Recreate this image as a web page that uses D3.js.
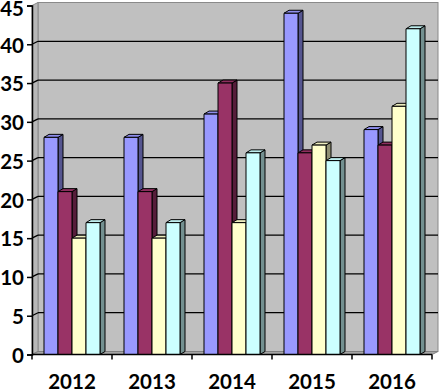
<!DOCTYPE html>
<html>
<head>
<meta charset="utf-8">
<script src="https://cdn.jsdelivr.net/npm/d3@7"></script>
<style>
  html, body { margin: 0; padding: 0; background: #fff; }
  svg { display: block; }
  .lbl { font-family: Lato, "Open Sans", sans-serif; font-weight: 700; font-size: 20.5px; fill: #000; }
</style>
</head>
<body>
<div id="chart"></div>
<script>
// Four series per year, Excel-2003 style 3D clustered columns.
const years = ["2012", "2013", "2014", "2015", "2016"];
const seriesA = [28, 28, 31, 44, 29];
const seriesB = [21, 21, 35, 26, 27];
const seriesC = [15, 15, 17, 27, 32];
const seriesD = [17, 17, 26, 25, 42];
const yTicks = [0, 5, 10, 15, 20, 25, 30, 35, 40, 45];

const series = [seriesA, seriesB, seriesC, seriesD];
const fills = ["#9999ff", "#993366", "#ffffcc", "#ccffff"];

const width = 439, height = 392;
const m = { left: 32, right: 7, top: 5.5, bottom: 37.5 };
const plotR = width - m.right;          // front plane right edge
const zeroY = height - m.bottom;        // front plane baseline
const wallDx = 6, wallDy = 3;           // depth of the walls
const barDx = 5, barDy = 3;             // depth of each column

const x0 = d3.scaleBand(years, [m.left, plotR]).paddingInner(0.3).paddingOuter(0.15);
const x1 = d3.scaleBand(d3.range(series.length), [0, x0.bandwidth()]);
const y = d3.scaleLinear([0, 45], [zeroY, m.top]);

const svg = d3.select("#chart").append("svg")
  .attr("width", width).attr("height", height);

const pts = (a) => a.map((p) => p.join(",")).join(" ");

// back wall, left wall, floor
const wallTop = y(45) - wallDy;
svg.append("rect")
  .attr("x", m.left + wallDx).attr("y", wallTop)
  .attr("width", plotR - m.left).attr("height", zeroY - wallDy - wallTop)
  .attr("fill", "#c0c0c0").attr("stroke", "#8a8a8a").attr("stroke-width", 1);
svg.append("polygon")
  .attr("points", pts([[m.left, zeroY], [m.left + wallDx, zeroY - wallDy], [m.left + wallDx, wallTop], [m.left, y(45)]]))
  .attr("fill", "#b8b8b8").attr("stroke", "#8a8a8a").attr("stroke-width", 1);
svg.append("polygon")
  .attr("points", pts([[m.left, zeroY], [plotR, zeroY], [plotR + wallDx, zeroY - wallDy], [m.left + wallDx, zeroY - wallDy]]))
  .attr("fill", "#a6a6a6").attr("stroke", "#808080").attr("stroke-width", 1);

// gridlines on back and left wall
const grid = svg.append("g").attr("stroke", "#000").attr("stroke-width", 1.3);
yTicks.filter((t) => t > 0 && t < 45).forEach((t) => {
  grid.append("line")
    .attr("x1", m.left + wallDx).attr("x2", plotR + wallDx)
    .attr("y1", y(t) - wallDy).attr("y2", y(t) - wallDy);
  grid.append("line")
    .attr("x1", m.left).attr("x2", m.left + wallDx)
    .attr("y1", y(t)).attr("y2", y(t) - wallDy);
});

// columns, painted left to right so neighbours cover hidden sides
const bars = svg.append("g").attr("stroke", "#000").attr("stroke-width", 1).attr("stroke-linejoin", "round");
years.forEach((yr, i) => {
  series.forEach((s, k) => {
    const xl = x0(yr) + x1(k), xr = xl + x1.bandwidth();
    const yt = y(s[i]);
    const c = d3.color(fills[k]);
    bars.append("polygon")
      .attr("points", pts([[xr, yt], [xr + barDx, yt - barDy], [xr + barDx, zeroY - barDy], [xr, zeroY]]))
      .attr("fill", c.darker(1.6));
    bars.append("polygon")
      .attr("points", pts([[xl, yt], [xr, yt], [xr + barDx, yt - barDy], [xl + barDx, yt - barDy]]))
      .attr("fill", c.darker(0.2));
    bars.append("rect")
      .attr("x", xl).attr("y", yt)
      .attr("width", xr - xl).attr("height", zeroY - yt)
      .attr("fill", c);
  });
});

// y axis
const yAxis = svg.append("g")
  .attr("transform", `translate(${m.left},0)`)
  .call(d3.axisLeft(y).tickValues(yTicks).tickSize(5).tickPadding(3));
yAxis.select(".domain").attr("stroke", "#000").attr("stroke-width", 1.5);
yAxis.selectAll(".tick line").attr("stroke", "#000").attr("stroke-width", 1.5);
yAxis.selectAll(".tick text").attr("class", "lbl").attr("font-size", null).attr("font-family", null)
  .attr("dy", "0.38em")
  // the top label sits against the page edge; keep it inside
  .attr("y", (d) => (d === 45 ? 2 : 0));

// x axis: line, boundary ticks, year labels
const xg = svg.append("g");
xg.append("line")
  .attr("x1", m.left).attr("x2", plotR).attr("y1", zeroY).attr("y2", zeroY)
  .attr("stroke", "#000").attr("stroke-width", 1.5);
const edges = years.map((yr) => x0(yr) - x0.step() * x0.paddingOuter()).concat([plotR]);
xg.selectAll("line.tk").data(edges).join("line").attr("class", "tk")
  .attr("x1", (d) => d).attr("x2", (d) => d).attr("y1", zeroY).attr("y2", zeroY + 5)
  .attr("stroke", "#000").attr("stroke-width", 1.5);
xg.selectAll("text").data(years).join("text").attr("class", "lbl")
  .attr("x", (d) => x0(d) + x0.bandwidth() / 2).attr("y", 389)
  .attr("text-anchor", "middle").text((d) => d);
</script>
</body>
</html>
